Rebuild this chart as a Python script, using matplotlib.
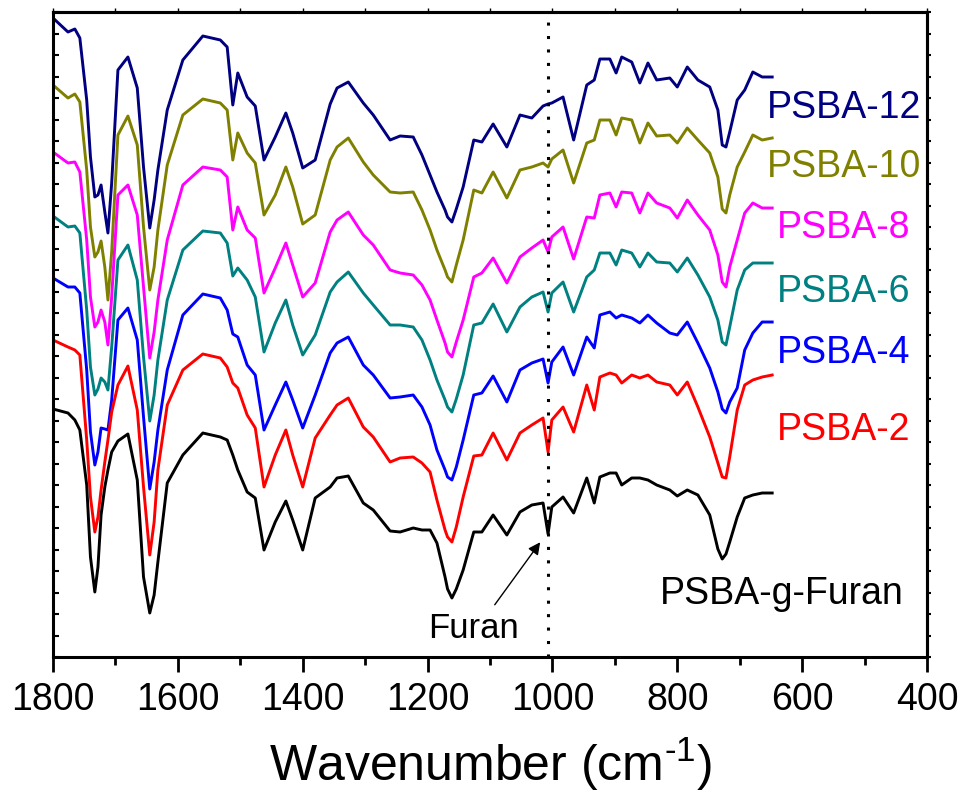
import matplotlib
matplotlib.use('Agg')
import matplotlib.pyplot as plt
from matplotlib.ticker import MultipleLocator

# FTIR spectra, transmittance in arbitrary units (curves already offset)
wavenumber = [1800, 1776, 1765, 1757, 1746, 1740, 1733, 1728, 1723, 1717,
              1712, 1706, 1696, 1680, 1665, 1655, 1645, 1638, 1632, 1617,
              1592, 1560, 1532, 1521, 1512, 1504, 1489, 1476, 1462, 1444,
              1427, 1416, 1400, 1380, 1356, 1345, 1327, 1303, 1287, 1260,
              1244, 1223, 1209, 1196, 1185, 1172, 1168, 1161, 1154, 1143,
              1126, 1113, 1095, 1073, 1052, 1033, 1015, 1007, 1001, 983,
              966, 945, 933, 924, 908, 898, 889, 873, 860, 847,
              833, 812, 800, 784, 767, 748, 735, 728, 722, 716,
              704, 692, 679, 664, 648]

psba12 = [639, 625, 628, 619, 557, 500, 460, 462, 472, 445,
          424, 474, 587, 600, 569, 490, 429, 457, 487, 547,
          597, 621, 617, 610, 552, 584, 560, 551, 497, 520,
          544, 524, 489, 497, 553, 569, 575, 554, 542, 517,
          521, 520, 502, 482, 465, 447, 440, 435, 448, 470,
          517, 515, 533, 510, 542, 539, 551, 553, 554, 560,
          517, 572, 577, 598, 598, 584, 600, 595, 574, 594,
          577, 579, 570, 590, 577, 570, 547, 512, 510, 525,
          557, 567, 585, 580, 580]

psba10 = [572, 559, 563, 555, 487, 430, 400, 405, 416, 390,
          357, 405, 522, 541, 512, 430, 367, 390, 427, 492,
          542, 558, 554, 547, 497, 524, 504, 494, 442, 462,
          490, 470, 433, 442, 497, 510, 519, 495, 482, 465,
          464, 465, 447, 427, 407, 387, 380, 375, 392, 417,
          467, 464, 485, 459, 487, 490, 494, 490, 498, 507,
          474, 514, 517, 537, 537, 522, 539, 537, 514, 534,
          521, 522, 514, 529, 517, 504, 480, 448, 444, 462,
          490, 505, 522, 517, 519]

psba8 = [505, 494, 495, 485, 417, 360, 330, 335, 347, 335,
         312, 360, 462, 472, 442, 370, 299, 325, 357, 417,
         472, 490, 487, 480, 427, 450, 427, 419, 364, 389,
         414, 392, 360, 374, 425, 437, 445, 422, 412, 387,
         384, 382, 372, 357, 337, 314, 305, 300, 315, 337,
         380, 384, 399, 374, 400, 409, 417, 405, 420, 430,
         398, 440, 439, 462, 464, 450, 465, 464, 444, 464,
         454, 449, 439, 457, 442, 427, 402, 375, 370, 390,
         417, 444, 454, 449, 449]

psba6 = [441, 430, 431, 424, 347, 290, 262, 268, 279, 275,
         267, 310, 397, 412, 377, 300, 236, 262, 297, 357,
         407, 426, 424, 414, 381, 389, 377, 360, 305, 334,
         357, 332, 302, 322, 365, 375, 385, 364, 352, 332,
         332, 330, 317, 297, 277, 257, 250, 245, 258, 282,
         332, 334, 353, 325, 350, 360, 365, 345, 364, 375,
         345, 380, 387, 404, 404, 392, 407, 404, 390, 404,
         395, 394, 385, 399, 382, 360, 337, 315, 312, 330,
         367, 387, 394, 394, 394]

psba4 = [379, 370, 370, 364, 287, 225, 192, 205, 229, 228,
         227, 257, 337, 349, 317, 240, 168, 195, 227, 287,
         342, 363, 359, 347, 323, 320, 292, 282, 227, 252,
         275, 257, 229, 262, 304, 314, 320, 292, 282, 259,
         260, 262, 250, 232, 207, 187, 180, 177, 190, 217,
         262, 264, 281, 255, 287, 294, 298, 274, 295, 310,
         282, 320, 309, 342, 345, 339, 342, 339, 334, 342,
         334, 324, 322, 335, 314, 289, 265, 248, 244, 255,
         269, 307, 324, 335, 335]

psba2 = [317, 310, 307, 302, 217, 160, 125, 140, 167, 195,
         217, 245, 272, 291, 247, 170, 102, 135, 187, 252,
         287, 303, 299, 290, 274, 269, 242, 229, 170, 202,
         227, 202, 170, 219, 242, 252, 259, 230, 220, 195,
         199, 200, 194, 185, 157, 127, 120, 115, 130, 160,
         201, 202, 224, 197, 224, 232, 239, 205, 237, 250,
         225, 272, 247, 280, 284, 282, 274, 282, 279, 282,
         275, 272, 262, 275, 250, 220, 194, 180, 179, 200,
         247, 272, 277, 280, 282]

psba_furan = [248, 244, 237, 227, 172, 100, 65, 90, 142, 170,
              187, 205, 216, 223, 177, 80, 44, 62, 95, 174,
              202, 224, 220, 217, 202, 187, 165, 159, 107, 135,
              156, 137, 107, 159, 170, 179, 181, 154, 147, 126,
              125, 129, 127, 127, 114, 80, 68, 59, 68, 87,
              125, 125, 142, 122, 145, 152, 154, 123, 150, 160,
              144, 179, 154, 180, 184, 184, 172, 179, 179, 177,
              172, 167, 161, 167, 162, 142, 108, 98, 103, 115,
              140, 159, 162, 164, 164]

names = ['PSBA-12', 'PSBA-10', 'PSBA-8', 'PSBA-6', 'PSBA-4', 'PSBA-2', 'PSBA-g-Furan']
colors = ['#000080', '#808000', '#ff00ff', '#008080', '#0000ff', '#ff0000', '#000000']
spectra = [psba12, psba10, psba8, psba6, psba4, psba2, psba_furan]

plt.rcParams['font.family'] = ['Liberation Sans', 'DejaVu Sans']
plt.rcParams['mathtext.fontset'] = 'custom'
plt.rcParams['mathtext.rm'] = 'Liberation Sans'
plt.rcParams['mathtext.default'] = 'regular'

fig = plt.figure(figsize=(9.64, 7.99), dpi=100)
ax = fig.add_axes([53/964, 1-657/799, 874/964, 645/799])

for y, c in zip(spectra, colors):
    ax.plot(wavenumber, y, color=c, lw=2.1, solid_joinstyle='round')

# furan band marker
ax.axvline(1007, color='k', ls=(0, (1, 3.4)), lw=2.2)
ax.annotate('', xy=(1017, 117), xytext=(1095, 50),
            arrowprops=dict(arrowstyle='-|>', color='k', lw=1, mutation_scale=18))
ax.text(1127, 19, 'Furan', fontsize=25, ha='center', va='baseline')

# sample labels
label_x = [533, 533, 533, 533, 533, 533, 632]
label_y = [539, 480, 419, 355, 294, 217, 53]
for n, c, lx, ly in zip(names, colors, label_x, label_y):
    ax.text(lx, ly, n, color=c, fontsize=27, ha='center', va='baseline')

ax.set_xlim(1800, 400)
ax.set_ylim(0, 645)
ax.xaxis.set_major_locator(MultipleLocator(200))
ax.xaxis.set_minor_locator(MultipleLocator(100))
ax.yaxis.set_major_locator(MultipleLocator(21.5))
ax.tick_params(axis='x', which='major', direction='out', length=11, width=2, labelsize=27, pad=7)
ax.tick_params(axis='x', which='minor', direction='out', length=6, width=2)
ax.tick_params(axis='y', direction='in', length=4, width=1.5, labelleft=False)
for s in ax.spines.values():
    s.set_linewidth(2.2)

top = ax.secondary_xaxis('top')
top.xaxis.set_major_locator(MultipleLocator(100))
top.tick_params(direction='out', length=3, width=1, labeltop=False)
right = ax.secondary_yaxis('right')
right.yaxis.set_major_locator(MultipleLocator(21.5))
right.tick_params(direction='out', length=3, width=1.5, labelright=False)
right.spines['right'].set_linewidth(2.2)
top.spines['top'].set_linewidth(2.2)

ax.set_xlabel(r'Wavenumber (cm$^{\text{-}1}$)', fontsize=36, labelpad=13)

fig.savefig('out.png', dpi=100)
